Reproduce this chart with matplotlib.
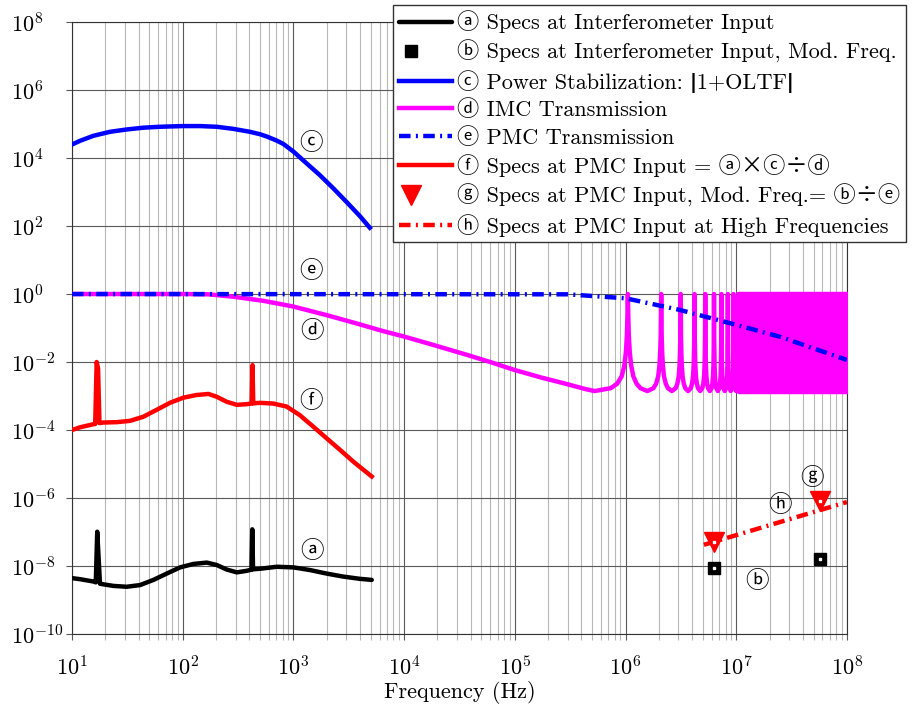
import numpy as np
import matplotlib.pyplot as plt
from matplotlib.ticker import FixedLocator, NullLocator, NullFormatter
from matplotlib.legend_handler import HandlerTuple

plt.rcParams['font.family'] = ['cmr10', 'Noto Sans CJK JP', 'DejaVu Sans']
plt.rcParams['mathtext.fontset'] = 'cm'
plt.rcParams['axes.formatter.use_mathtext'] = True

# (a) specs at interferometer input
a_f = [10, 11.8, 15.6, 16.4, 16.9, 17.9, 23.6, 31.2, 41.2, 54.4, 71.8, 94.7, 125, 165, 203,
       249, 308, 377, 418, 425, 432, 500, 707, 1000, 1410, 1990, 2800, 3970, 5100]
a_v = [4.4e-9, 4.1e-9, 3.5e-9, 3.3e-9, 1.02e-7, 3.0e-9, 2.6e-9, 2.45e-9, 2.75e-9, 3.9e-9,
       6.0e-9, 9.1e-9, 1.15e-8, 1.26e-8, 1.07e-8, 7.9e-9, 6.5e-9, 7.2e-9, 7.8e-9, 1.2e-7,
       8.0e-9, 8.3e-9, 9.5e-9, 9.1e-9, 7.6e-9, 6.0e-9, 4.9e-9, 4.2e-9, 3.9e-9]

# (b) specs at interferometer input, modulation frequencies
b_f = [6.3e6, 5.7e7]
b_v = [8.7e-9, 1.6e-8]

# (c) power stabilization |1+OLTF|
c_f = [10, 11.8, 15.6, 22, 31, 44, 62, 100, 143, 203, 287, 405, 500, 574, 700, 811, 1000,
       1320, 1740, 2290, 3020, 3990, 4900]
c_v = [2.5e4, 3.2e4, 4.5e4, 5.9e4, 6.9e4, 7.8e4, 8.3e4, 8.7e4, 8.7e4, 8.3e4, 7.2e4,
       5.9e4, 5.0e4, 4.3e4, 3.3e4, 2.6e4, 1.55e4, 6.9e3, 3.1e3, 1.29e3, 510, 195, 89]

# (d) IMC transmission, smooth part below the first resonance
d_f = [10, 99, 170, 290, 537, 993, 1990, 3670, 6300, 1e4, 1.71e4, 3.7e4, 6.3e4, 1e5,
       1.73e5, 2.96e5, 4.34e5]
d_v = [1.0, 1.0, 0.98, 0.83, 0.63, 0.43, 0.24, 0.138, 0.083, 0.056, 0.034, 0.0162,
       0.0095, 5.8e-3, 3.5e-3, 2.24e-3, 1.6e-3]
# resonance peaks of the IMC and the shape of one peak (offset in FSR, transmission)
imc_fsr = 1.05e6
imc_peaks = [1.05e6, 2.1e6, 3.15e6, 4.2e6, 5.25e6, 6.3e6, 7.35e6, 8.4e6, 9.45e6, 1.05e7]
peak_off = [-0.5, -0.3, -0.2, -0.12, -0.07, -0.04, -0.02, -0.01, 0,
            0.01, 0.02, 0.04, 0.07, 0.12, 0.2, 0.3, 0.5]
peak_val = [1.4e-3, 1.7e-3, 2.3e-3, 3.8e-3, 8e-3, 0.02, 0.06, 0.2, 1.0,
            0.2, 0.06, 0.02, 8e-3, 3.8e-3, 2.3e-3, 1.7e-3, 1.4e-3]
# dense resonance region, drawn as a band
band_f = [1.05e7, 1.2e8]
band_lo = [1.3e-3, 1.3e-3]
band_hi = [1.0, 1.0]

# (e) PMC transmission
e_f = [10, 3e5, 1e6, 3.1e6, 8.7e6, 2.5e7, 1e8]
e_v = [1.0, 0.98, 0.75, 0.34, 0.14, 0.055, 0.0115]

# (f) specs at PMC input
f_f = [10, 11.8, 15.6, 16.2, 16.7, 17.2, 17.7, 19.2, 25.3, 33.4, 44, 58, 76.6, 101, 133, 171,
       203, 249, 308, 377, 420, 427, 434, 500, 658, 868, 1140, 1510, 1990, 2640, 3480, 5100]
f_v = [1.0e-4, 1.2e-4, 1.48e-4, 1.5e-4, 1.0e-2, 6.5e-3, 1.6e-4, 1.66e-4, 1.7e-4, 1.86e-4,
       2.45e-4, 3.9e-4, 6.3e-4, 8.9e-4, 1.07e-3, 1.15e-3, 9.5e-4, 6.8e-4, 5.5e-4, 5.75e-4,
       6.0e-4, 8.1e-3, 6.1e-4, 6.3e-4, 6.0e-4, 4.9e-4, 2.75e-4, 1.26e-4, 5.75e-5, 2.6e-5,
       1.17e-5, 4.3e-6]

# (g) specs at PMC input, modulation frequencies
g_f = [6.3e6, 5.7e7]
g_v = [5.2e-8, 8.3e-7]

# (h) specs at PMC input at high frequencies
h_f = [5.1e6, 1e8]
h_v = [4.2e-8, 7.6e-7]

x_ticks = [1e1, 1e2, 1e3, 1e4, 1e5, 1e6, 1e7, 1e8]
y_ticks = [1e-10, 1e-8, 1e-6, 1e-4, 1e-2, 1e0, 1e2, 1e4, 1e6, 1e8]

legend_labels = [
    'ⓐ Specs at Interferometer Input',
    'ⓑ Specs at Interferometer Input, Mod. Freq.',
    'ⓒ Power Stabilization: ǀ1+OLTFǀ',
    'ⓓ IMC Transmission',
    'ⓔ PMC Transmission',
    'ⓕ Specs at PMC Input = ⓐ×ⓒ÷ⓓ',
    'ⓖ Specs at PMC Input, Mod. Freq.= ⓑ÷ⓔ',
    'ⓗ Specs at PMC Input at High Frequencies',
]

# circled tags placed next to the curves
tag_text = ['ⓐ', 'ⓑ', 'ⓒ', 'ⓓ', 'ⓔ', 'ⓕ', 'ⓖ', 'ⓗ']
tag_f = [1480, 1.55e7, 1450, 1480, 1450, 1450, 4.85e7, 2.5e7]
tag_v = [2.6e-8, 3.4e-9, 2.6e4, 7.6e-2, 4.5, 6.6e-4, 3.6e-6, 5.8e-7]

fig = plt.figure(figsize=(9.16, 7.13), dpi=100)
ax = fig.add_axes([0.0786, 0.1108, 0.846, 0.8583])
ax.set_xscale('log')
ax.set_yscale('log')
ax.set_xlim(10, 1e8)
ax.set_ylim(1e-10, 1e8)

lw = 3.2
la, = ax.plot(a_f, a_v, color='black', lw=lw, solid_joinstyle='round', solid_capstyle='round', zorder=4)
lc, = ax.plot(c_f, c_v, color='#0000ff', lw=lw, solid_joinstyle='round', zorder=4)

# IMC: smooth part, individual resonances, dense band
imc_x = list(d_f)
imc_y = list(d_v)
for p in imc_peaks:
    for o, v in zip(peak_off, peak_val):
        imc_x.append(p + o * imc_fsr)
        imc_y.append(v)
ld, = ax.plot(imc_x, imc_y, color='#ff00ff', lw=lw, solid_joinstyle='round', zorder=3)
ax.fill_between(band_f, band_lo, band_hi, color='#ff00ff', lw=lw, edgecolor='#ff00ff', zorder=3)

le, = ax.plot(e_f, e_v, color='#0000ff', lw=lw, dashes=(2.6, 1.2, 0.45, 1.2),
              dash_capstyle='butt', zorder=5)
lf, = ax.plot(f_f, f_v, color='#ff0000', lw=lw, solid_joinstyle='round', zorder=4)
lh, = ax.plot(h_f, h_v, color='#ff0000', lw=lw, dashes=(2.6, 1.2, 0.45, 1.2),
              dash_capstyle='butt', zorder=5)

mb, = ax.plot(b_f, b_v, ls='none', marker='s', ms=9, color='black', zorder=6)
mb2, = ax.plot(b_f, b_v, ls='none', marker='s', ms=1.6, color='white', zorder=7)
mg, = ax.plot(g_f, g_v, ls='none', marker='v', ms=15, color='#ff0000', zorder=6)
mg2, = ax.plot(g_f, g_v, ls='none', marker='s', ms=1.5, color='white', zorder=7)

for t, x, y in zip(tag_text, tag_f, tag_v):
    ax.text(x, y, t, fontsize=17, ha='center', va='center', zorder=8)

# grid and ticks
ax.yaxis.set_major_locator(FixedLocator(y_ticks))
ax.yaxis.set_minor_locator(NullLocator())
ax.xaxis.set_major_locator(FixedLocator(x_ticks))
x_minor = [m * t for t in x_ticks[:-1] for m in range(2, 10)]
ax.xaxis.set_minor_locator(FixedLocator(x_minor))
ax.xaxis.set_minor_formatter(NullFormatter())
ax.grid(True, which='major', color='0.35', lw=0.8)
ax.grid(True, which='minor', axis='x', color='0.72', lw=0.8)
ax.set_axisbelow(True)
ax.tick_params(which='major', direction='out', length=4.5, width=0.8, color='0.35',
               labelsize=16)
ax.tick_params(which='minor', direction='out', length=4.5, width=0.8, color='0.72')
ax.tick_params(axis='x', pad=11)
# y labels start at the same left edge, as in the reference
ax.tick_params(axis='y', pad=39.5)
for t in ax.yaxis.get_major_ticks():
    t.label1.set_horizontalalignment('left')
for s in ax.spines.values():
    s.set_color('0.2')
    s.set_linewidth(0.8)

ax.set_xlabel('Frequency (Hz)', fontsize=16, labelpad=1)

leg = ax.legend([la, (mb, mb2), lc, ld, le, lf, (mg, mg2), lh], legend_labels,
                handler_map={tuple: HandlerTuple(ndivide=None)},
                loc='upper left', bbox_to_anchor=(393 / 916, 1 - 5 / 713),
                bbox_transform=fig.transFigure, fontsize=16, frameon=True,
                fancybox=False, framealpha=1, edgecolor='0.2', borderpad=0.25,
                labelspacing=0.3, handlelength=2.4, handletextpad=0.25,
                borderaxespad=0)
leg.get_frame().set_linewidth(1.0)
leg.set_zorder(10)

fig.savefig('out.png', dpi=100)
